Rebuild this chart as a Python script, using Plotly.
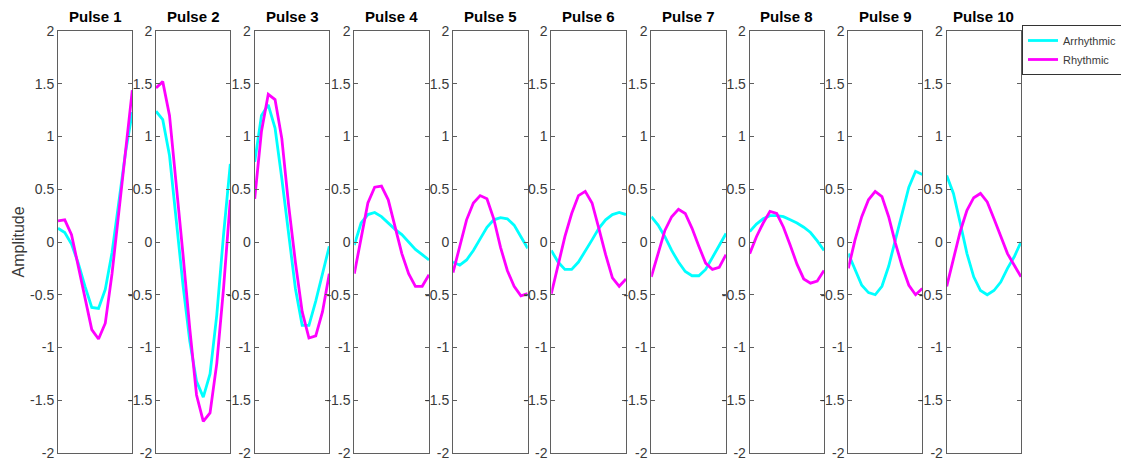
import plotly.graph_objects as go

W, H = 1121, 458

panel_titles = ["Pulse 1", "Pulse 2", "Pulse 3", "Pulse 4", "Pulse 5",
                "Pulse 6", "Pulse 7", "Pulse 8", "Pulse 9", "Pulse 10"]
sample_index = list(range(12))

arrhythmic = [
    [0.13, 0.09, -0.02, -0.20, -0.42, -0.62, -0.63, -0.45, -0.10, 0.35, 0.85, 1.23],
    [1.24, 1.16, 0.82, 0.22, -0.41, -0.94, -1.32, -1.47, -1.25, -0.69, 0.07, 0.74],
    [0.76, 1.20, 1.30, 1.08, 0.60, 0.07, -0.44, -0.79, -0.79, -0.56, -0.31, -0.04],
    [-0.03, 0.18, 0.26, 0.28, 0.24, 0.18, 0.12, 0.07, 0.00, -0.07, -0.12, -0.17],
    [-0.19, -0.22, -0.17, -0.08, 0.03, 0.14, 0.21, 0.23, 0.22, 0.16, 0.05, -0.06],
    [-0.08, -0.19, -0.26, -0.26, -0.19, -0.09, 0.02, 0.13, 0.21, 0.26, 0.28, 0.26],
    [0.24, 0.16, 0.05, -0.08, -0.19, -0.28, -0.32, -0.32, -0.26, -0.15, -0.04, 0.08],
    [0.10, 0.17, 0.22, 0.25, 0.25, 0.24, 0.21, 0.18, 0.14, 0.09, 0.01, -0.08],
    [-0.11, -0.26, -0.41, -0.48, -0.50, -0.42, -0.23, 0.02, 0.27, 0.52, 0.67, 0.64],
    [0.63, 0.46, 0.18, -0.11, -0.33, -0.46, -0.50, -0.46, -0.38, -0.25, -0.14, 0.00],
]

rhythmic = [
    [0.20, 0.21, 0.07, -0.23, -0.55, -0.83, -0.92, -0.77, -0.30, 0.27, 0.87, 1.44],
    [1.46, 1.52, 1.20, 0.57, -0.12, -0.82, -1.45, -1.70, -1.62, -1.15, -0.44, 0.40],
    [0.41, 1.05, 1.40, 1.35, 0.98, 0.35, -0.19, -0.66, -0.91, -0.89, -0.66, -0.30],
    [-0.30, 0.05, 0.37, 0.52, 0.53, 0.40, 0.14, -0.11, -0.30, -0.42, -0.42, -0.31],
    [-0.29, -0.03, 0.21, 0.37, 0.44, 0.41, 0.22, -0.05, -0.27, -0.42, -0.51, -0.49],
    [-0.49, -0.23, 0.05, 0.27, 0.44, 0.48, 0.37, 0.13, -0.12, -0.34, -0.42, -0.35],
    [-0.33, -0.11, 0.11, 0.24, 0.31, 0.27, 0.13, -0.04, -0.20, -0.26, -0.24, -0.12],
    [-0.11, 0.05, 0.18, 0.29, 0.27, 0.14, -0.03, -0.21, -0.35, -0.39, -0.37, -0.27],
    [-0.25, 0.02, 0.24, 0.40, 0.48, 0.43, 0.24, -0.01, -0.23, -0.41, -0.50, -0.44],
    [-0.42, -0.17, 0.10, 0.30, 0.42, 0.46, 0.38, 0.22, 0.05, -0.11, -0.22, -0.33],
]

y_tickvals = [-2, -1.5, -1, -0.5, 0, 0.5, 1, 1.5, 2]
y_ticktext = ["-2", "-1.5", "-1", "-0.5", "0", "0.5", "1", "1.5", "2"]

# panel pixel edges (layout only)
panel_left = [58, 156, 254.7, 354.3, 453, 551.3, 651.3, 749.7, 848.3, 946.7]
panel_right = [132.3, 230.3, 329.3, 429, 527.7, 626, 726, 824, 922.3, 1021]
PLOT_TOP, PLOT_BOTTOM = 31, 453
PLOT_H = PLOT_BOTTOM - PLOT_TOP

FONT = "Liberation Sans, Arial, Helvetica, sans-serif"
AXCOL = "#5f5f5f"
TXTCOL = "#3a3a3a"
CYAN = "#00FFFF"
MAGENTA = "#FF00FF"

fig = go.Figure()
annotations = []
for i in range(10):
    xa = "x" if i == 0 else f"x{i+1}"
    ya = "y" if i == 0 else f"y{i+1}"
    fig.add_trace(go.Scatter(x=sample_index, y=arrhythmic[i], xaxis=xa, yaxis=ya,
                             mode="lines", line=dict(color=CYAN, width=2.8),
                             name="Arrhythmic", legendgroup="a", showlegend=(i == 0)))
    fig.add_trace(go.Scatter(x=sample_index, y=rhythmic[i], xaxis=xa, yaxis=ya,
                             mode="lines", line=dict(color=MAGENTA, width=2.8),
                             name="Rhythmic", legendgroup="r", showlegend=(i == 0)))
    dom = [panel_left[i] / W, panel_right[i] / W]
    fig.layout[f"xaxis{i+1}"] = dict(
        domain=dom, range=[0, 11], anchor=ya, showline=True, mirror=True,
        linecolor=AXCOL, linewidth=1, showticklabels=False, ticks="",
        showgrid=False, zeroline=False, fixedrange=True, automargin=False)
    fig.layout[f"yaxis{i+1}"] = dict(
        domain=[0, 1], range=[-2, 2], anchor=xa, showline=True, mirror="ticks",
        linecolor=AXCOL, linewidth=1, ticks="inside", ticklen=4, tickwidth=1,
        tickcolor=AXCOL, tickvals=y_tickvals, ticktext=y_ticktext,
        tickfont=dict(family=FONT, size=14, color=TXTCOL),
        ticklabeloverflow="allow",
        showgrid=False, zeroline=False, fixedrange=True, automargin=False)
    annotations.append(dict(
        text="<b>" + panel_titles[i] + "</b>", xref="paper", yref="paper",
        x=(dom[0] + dom[1]) / 2, y=1, xanchor="center", yanchor="bottom",
        yshift=4, showarrow=False, font=dict(family=FONT, size=15, color="#000000")))

annotations.append(dict(
    text="Amplitude", xref="paper", yref="paper", x=17.5 / W, y=0.5,
    xanchor="center", yanchor="middle", textangle=-90, showarrow=False,
    font=dict(family=FONT, size=16, color=TXTCOL)))

fig.update_layout(
    width=W, height=H,
    margin=dict(l=0, r=0, t=PLOT_TOP, b=H - PLOT_BOTTOM, autoexpand=False),
    paper_bgcolor="white", plot_bgcolor="white",
    annotations=annotations,
    showlegend=True,
    legend=dict(x=1022 / W, y=(PLOT_BOTTOM - 25) / PLOT_H,
                xanchor="left", yanchor="top",
                bgcolor="white", bordercolor="#333333", borderwidth=1,
                font=dict(family=FONT, size=11, color=TXTCOL),
                itemwidth=30, tracegroupgap=0),
)

fig.write_html(
    "out.html",
    config={"displayModeBar": False},
    post_script="document.body.style.margin='0';document.body.style.overflow='hidden';",
)
